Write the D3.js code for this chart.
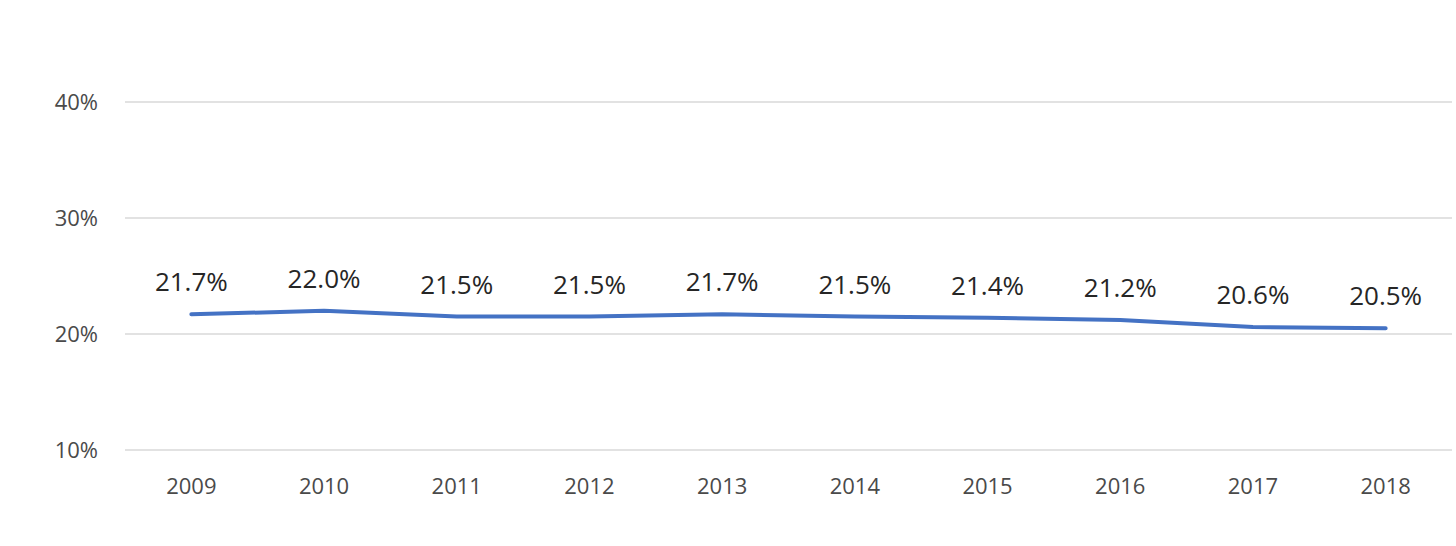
<!DOCTYPE html>
<html>
<head>
<meta charset="utf-8">
<script src="https://cdn.jsdelivr.net/npm/d3@7"></script>
<style>
  body { margin: 0; background: #fff; }
  svg text { font-family: "Open Sans", "Noto Sans", sans-serif; }
</style>
</head>
<body>
<div id="app"></div>
<script>
// DATA
const years = ['2009','2010','2011','2012','2013','2014','2015','2016','2017','2018'];
const shares = [21.7, 22.0, 21.5, 21.5, 21.7, 21.5, 21.4, 21.2, 20.6, 20.5];
const yTicks = [10, 20, 30, 40];

const width = 1456, height = 546;
const margin = { top: 102, right: 4, bottom: 96, left: 125 };

const svg = d3.select('#app').append('svg')
  .attr('width', width)
  .attr('height', height);

const x = d3.scaleBand()
  .domain(years)
  .range([margin.left, width - margin.right]);

const y = d3.scaleLinear()
  .domain([10, 40])
  .range([height - margin.bottom, margin.top]);

// gridlines
svg.append('g')
  .selectAll('line')
  .data(yTicks)
  .join('line')
    .attr('x1', margin.left)
    .attr('x2', width - margin.right)
    .attr('y1', d => y(d))
    .attr('y2', d => y(d))
    .attr('stroke', '#d9d9d9')
    .attr('stroke-width', 1.3);

// y labels
svg.append('g')
  .selectAll('text')
  .data(yTicks)
  .join('text')
    .attr('x', 98)
    .attr('y', d => y(d))
    .attr('dy', '0.35em')
    .attr('text-anchor', 'end')
    .attr('fill', '#4a4a4a')
    .style('font-size', '22px')
    .text(d => `${d}%`);

// x labels
svg.append('g')
  .selectAll('text')
  .data(years)
  .join('text')
    .attr('x', d => x(d) + x.bandwidth() / 2)
    .attr('y', y(10) + 44)
    .attr('text-anchor', 'middle')
    .attr('fill', '#4a4a4a')
    .style('font-size', '22px')
    .text(d => d);

const pts = years.map((d, i) => ({ year: d, v: shares[i] }));

const line = d3.line()
  .x(d => x(d.year) + x.bandwidth() / 2)
  .y(d => y(d.v));

svg.append('path')
  .datum(pts)
  .attr('d', line)
  .attr('fill', 'none')
  .attr('stroke', '#4472c4')
  .attr('stroke-width', 4)
  .attr('stroke-linecap', 'round')
  .attr('stroke-linejoin', 'round');

// data labels
svg.append('g')
  .selectAll('text')
  .data(pts)
  .join('text')
    .attr('x', d => x(d.year) + x.bandwidth() / 2)
    .attr('y', d => y(d.v) - 23)
    .attr('text-anchor', 'middle')
    .attr('fill', '#262626')
    .style('font-size', '26px')
    .text(d => `${d.v.toFixed(1)}%`);
</script>
</body>
</html>
